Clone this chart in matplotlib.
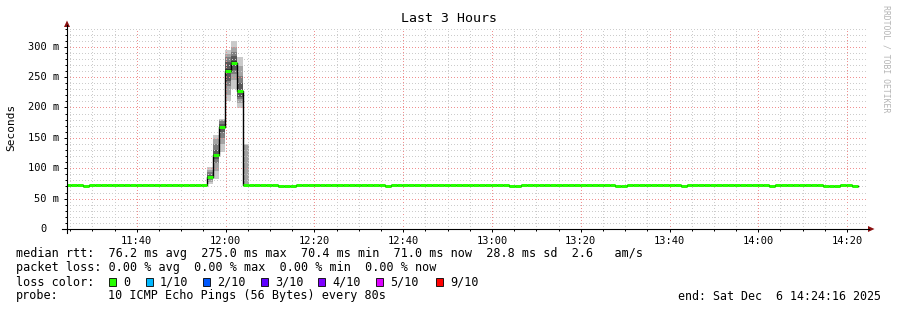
import datetime as dt
import matplotlib
matplotlib.use("Agg")
import matplotlib.pyplot as plt
import matplotlib.dates as mdates
from matplotlib.ticker import MultipleLocator, NullFormatter
from matplotlib.patches import Rectangle, Polygon
from matplotlib.lines import Line2D

plt.rcParams["font.family"] = ["DejaVu Sans Mono"]

# ---------------- data ----------------
end_time = dt.datetime(2025, 12, 6, 14, 24, 16)
start_time = end_time - dt.timedelta(hours=3)
step_seconds = 80
first_step_end = dt.datetime(2025, 12, 6, 11, 25, 10)

# median RTT (ms) per 80 s step, run-length encoded: (count, value)
run_counts = [3, 1, 20, 1, 1, 1, 1, 1, 1, 1, 5, 3, 15, 1, 20, 2, 16, 2, 9, 1, 14, 1, 8, 3, 2, 1]
run_values = [72.0, 70.6, 72.0, 85.7, 122.4, 167.7, 260.7, 274.0, 227.5, 72.0,
              72.0, 70.8, 72.0, 70.8, 72.0, 70.8, 72.0, 70.8, 72.0, 71.2,
              72.0, 71.2, 72.0, 70.8, 72.0, 71.0]

# the 10 sorted ping times (ms) for the steps where smoke is visible
smoke_steps = [24, 25, 26, 27, 28, 29, 30]
smoke_pings = [
    [74, 77, 80, 83, 85, 86.5, 89, 93, 97, 102],
    [83, 95, 108, 115, 121, 124, 130, 140, 148, 154],
    [127, 140, 150, 160, 166, 169, 173, 177, 180, 181.5],
    [211, 221, 235, 244, 258, 263, 275, 283, 288.5, 295],
    [231, 245, 255, 261, 272, 276, 285, 292, 300, 310],
    [199, 208, 214, 218, 226, 228, 240, 251, 268, 283],
    [71, 71, 72, 72, 72, 72, 72, 72, 139, 140],
]

legend_line1 = "median rtt:  76.2 ms avg  275.0 ms max  70.4 ms min  71.0 ms now  28.8 ms sd  2.6   am/s"
legend_line2 = "packet loss: 0.00 % avg  0.00 % max  0.00 % min  0.00 % now"
loss_labels = ["0", "1/10", "2/10", "3/10", "4/10", "5/10", "9/10"]
loss_colors = ["#26ff00", "#00b8ff", "#0059ff", "#5e00ff", "#7e00ff", "#dd00ff", "#ff0000"]
probe_text = "10 ICMP Echo Pings (56 Bytes) every 80s"
end_text = "end: Sat Dec  6 14:24:16 2025"
title_text = "Last 3 Hours"
ylabel_text = "Seconds"
watermark_text = "RRDTOOL / TOBI OETIKER"

# ---------------- figure ----------------
W, H = 897, 310
fig = plt.figure(figsize=(W / 100, H / 100), dpi=100)
fig.patch.set_facecolor("white")
AX_L, AX_R, AX_T, AX_B = 67, 866, 28.5, 229
ax = fig.add_axes([AX_L / W, 1 - AX_B / H, (AX_R - AX_L) / W, (AX_B - AX_T) / H])
ax.set_facecolor("white")


def fx(x):
    return x / W


def fy(y):
    return 1 - y / H


# expand runs
medians = []
for c, v in zip(run_counts, run_values):
    medians.extend([v] * c)
step = dt.timedelta(seconds=step_seconds)
ends = [first_step_end + k * step for k in range(len(medians))]
starts = [e - step for e in ends]
s_num = mdates.date2num(starts)
e_num = mdates.date2num(ends)
width_days = step_seconds / 86400.0

# smoke
for k, pings in zip(smoke_steps, smoke_pings):
    for i in range(5):
        lo, hi = pings[i], pings[9 - i]
        g = int(190 / 5 * (5 - (i + 1))) + 50
        if hi > lo:
            ax.bar(s_num[k], hi - lo, bottom=lo, width=width_days, align="edge",
                   color=(g / 255, g / 255, g / 255), linewidth=0, zorder=1)

# black median step line
xs, ys = [], []
for a, b, m in zip(s_num, e_num, medians):
    xs += [a, b]
    ys += [m, m]
ax.plot(xs, ys, color="#000000", lw=1.0, zorder=3)

# green median segments (loss 0)
ax.hlines(medians, s_num, e_num, colors=loss_colors[0], lw=3 * 0.72, zorder=4,
          capstyle="butt")

ax.set_xlim(mdates.date2num(start_time), mdates.date2num(end_time))
ax.set_ylim(0, 330)

ax.xaxis.set_major_locator(mdates.MinuteLocator(byminute=[0, 20, 40]))
ax.xaxis.set_minor_locator(mdates.MinuteLocator(byminute=range(0, 60, 5)))
ax.xaxis.set_major_formatter(mdates.DateFormatter("%H:%M"))
ax.yaxis.set_major_locator(MultipleLocator(50))
ax.yaxis.set_minor_locator(MultipleLocator(10))
ax.yaxis.set_major_formatter(NullFormatter())

ax.set_axisbelow("line")
ax.grid(which="minor", color="#cccccc", linestyle=(0.5, (1, 2)), lw=0.72)
ax.grid(which="major", color="#f09090", linestyle=(0.5, (1, 2)), lw=0.72)

for sp in ax.spines.values():
    sp.set_visible(False)
ax.tick_params(axis="both", which="major", direction="out", length=2.2, width=0.72,
               color="#000000")
ax.tick_params(axis="both", which="minor", direction="out", length=1.5, width=0.72,
               color="#000000")
ax.tick_params(axis="x", which="major", labelsize=7.5, pad=3)

# y tick labels
for v in range(0, 301, 50):
    if v == 0:
        lab, off = "0", -20.5
    else:
        lab, off = f"{v} m", -7.5
    ax.annotate(lab, xy=(0, v), xycoords=ax.get_yaxis_transform(),
                xytext=(off * 0.72, 0), textcoords="offset points",
                ha="right", va="center", fontsize=7.5)

# axis lines and arrows
fig.add_artist(Line2D([fx(AX_L), fx(AX_L)], [fy(AX_B + 4), fy(25)], color="black", lw=0.8))
fig.add_artist(Line2D([fx(AX_L - 5), fx(869)], [fy(AX_B), fy(AX_B)], color="black", lw=0.8))
fig.add_artist(Polygon([[fx(AX_L), fy(20.5)], [fx(AX_L - 3), fy(27)], [fx(AX_L + 3), fy(27)]],
                       closed=True, facecolor="#8b1010", edgecolor="none"))
fig.add_artist(Polygon([[fx(874.5), fy(AX_B)], [fx(868), fy(AX_B - 3)], [fx(868), fy(AX_B + 3)]],
                       closed=True, facecolor="#8b1010", edgecolor="none"))

# texts
fig.text(fx(448.5), fy(19), title_text, ha="center", va="center", fontsize=9.5)
fig.text(fx(11), fy(127), ylabel_text, ha="center", va="center", rotation=90, fontsize=8)
fig.text(fx(886), fy(59), watermark_text, ha="center", va="center", rotation=270,
         fontsize=5.9, color="#b4b4b4")

LX = 16
fig.text(fx(LX), fy(254), legend_line1, ha="left", va="center", fontsize=8.5)
fig.text(fx(LX), fy(268), legend_line2, ha="left", va="center", fontsize=8.5)
fig.text(fx(LX), fy(282), "loss color:", ha="left", va="center", fontsize=8.5)
fig.text(fx(LX), fy(296), "probe:", ha="left", va="center", fontsize=8.5)
fig.text(fx(108), fy(296), probe_text, ha="left", va="center", fontsize=8.5)
fig.text(fx(677.5), fy(296), end_text, ha="left", va="center", fontsize=8.4)

box_x = [109, 146, 203, 261, 318, 376, 436]
for bx, lab, col in zip(box_x, loss_labels, loss_colors):
    fig.add_artist(Rectangle((fx(bx), fy(286)), 7 / W, 8 / H, transform=fig.transFigure,
                             facecolor=col, edgecolor="black", lw=0.6))
    fig.text(fx(bx + 14), fy(282), lab, ha="left", va="center", fontsize=8.5)

fig.savefig("out.png", dpi=100, facecolor="white")
